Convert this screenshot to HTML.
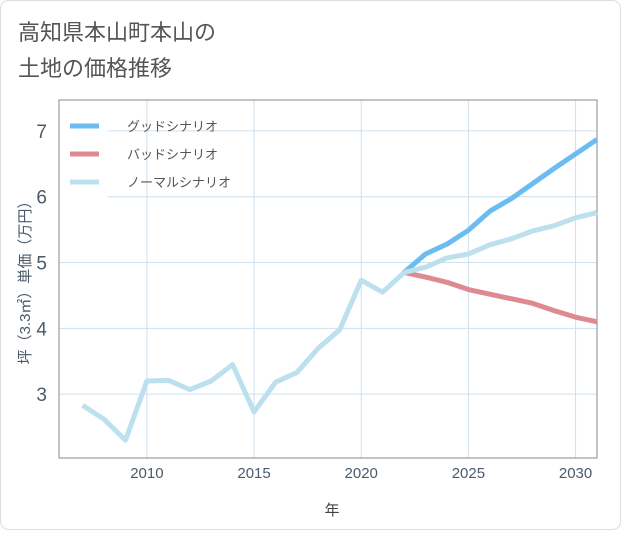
<!DOCTYPE html>
<html><head><meta charset="utf-8"><style>
body{margin:0;background:#fff;font-family:"Liberation Sans","Noto Sans CJK JP",sans-serif;}
</style></head><body>
<svg width="621" height="530" xmlns="http://www.w3.org/2000/svg" style="font-family:'Liberation Sans','Noto Sans CJK JP',sans-serif">
<rect x="0.5" y="0.5" width="620" height="529" rx="8" fill="#fff" stroke="#ddd"/>
<text x="18" y="40" font-size="22" fill="#555">高知県本山町本山の</text>
<text x="18" y="76" font-size="22" fill="#555">土地の価格推移</text>
<g id="grid"></g>
<rect x="59" y="100" width="538" height="358" fill="none" stroke="#888"/>
<g id="axes"></g>
<g id="series"></g>
<rect x="60" y="110" width="48" height="90" fill="#fff"/>
<g>
<g><line x1="70" y1="126" x2="99" y2="126" stroke="#6bbcf0" stroke-width="5"/><text x="127" y="131" font-size="13" fill="#555">グッドシナリオ</text></g>
<g><line x1="70" y1="154" x2="99" y2="154" stroke="#de8a90" stroke-width="5"/><text x="127" y="159" font-size="13" fill="#555">バッドシナリオ</text></g>
<g><line x1="70" y1="182" x2="99" y2="182" stroke="#bde0ee" stroke-width="5"/><text x="127" y="187" font-size="13" fill="#555">ノーマルシナリオ</text></g>
</g>
<text x="332" y="515" font-size="15" fill="#444" text-anchor="middle">年</text>
<text transform="translate(30,279) rotate(-90)" font-size="15" fill="#4a5a6a" text-anchor="middle">坪（3.3㎡）単価（万円）</text>
</svg>
<script>
const histYears=[2007,2008,2009,2010,2011,2012,2013,2014,2015,2016,2017,2018,2019,2020,2021,2022];
const histValues=[2.83,2.62,2.3,3.2,3.21,3.07,3.2,3.45,2.73,3.18,3.33,3.7,3.98,4.73,4.55,4.85];
const futYears=[2022,2023,2024,2025,2026,2027,2028,2029,2030,2031];
const goodValues=[4.85,5.13,5.28,5.49,5.78,5.97,6.2,6.43,6.65,6.87];
const badValues=[4.85,4.78,4.7,4.59,4.52,4.45,4.38,4.27,4.17,4.1];
const normalValues=[4.85,4.93,5.07,5.13,5.27,5.36,5.48,5.56,5.68,5.76];
const xTicks=[2010,2015,2020,2025,2030];
const yTicks=[3,4,5,6,7];
const X0=59,X1=597,Y0=458,Y1=100,xMin=2005.9,xMax=2031,yMin=2.03,yMax=7.47;
const xs=v=>X0+(v-xMin)/(xMax-xMin)*(X1-X0);
const ys=v=>Y0-(v-yMin)/(yMax-yMin)*(Y0-Y1);
const NS="http://www.w3.org/2000/svg";
const grid=document.getElementById('grid'),axes=document.getElementById('axes'),ser=document.getElementById('series');
function mk(t,a,p){const e=document.createElementNS(NS,t);for(const k in a)e.setAttribute(k,a[k]);p.appendChild(e);return e;}
xTicks.forEach(t=>{
 const l=mk('line',{x1:xs(t),x2:xs(t),y1:Y1,y2:Y0,stroke:'#cfe0ee','stroke-width':1},grid);
 
 
 const tx=mk('text',{x:xs(t),y:Y0+20,'font-size':15,fill:'#4a5a6a','text-anchor':'middle'},axes);
 tx.textContent=t;
 
 
});
yTicks.forEach(t=>{
 const l=mk('line',{x1:X0,x2:X1,y1:ys(t),y2:ys(t),stroke:'#cfe0ee','stroke-width':1},grid);
 
 
 const tx=mk('text',{x:X0-12,y:ys(t)+7,'font-size':19,fill:'#4a5a6a','text-anchor':'end'},axes);
 tx.textContent=t;
 
 
});
function line(xa,va,c,n){
 const p=mk('polyline',{points:xa.map((x,i)=>xs(x)+','+ys(va[i])).join(' '),fill:'none',stroke:c,'stroke-width':5,'stroke-linejoin':'round'},ser);
 
 
}
line(futYears,badValues,'#de8a90','bad-scenario-line');
line(futYears,goodValues,'#6bbcf0','good-scenario-line');
line(futYears,normalValues,'#bde0ee','normal-scenario-line');
line(histYears,histValues,'#bde0ee','historical-line');
</script>
</body></html>
